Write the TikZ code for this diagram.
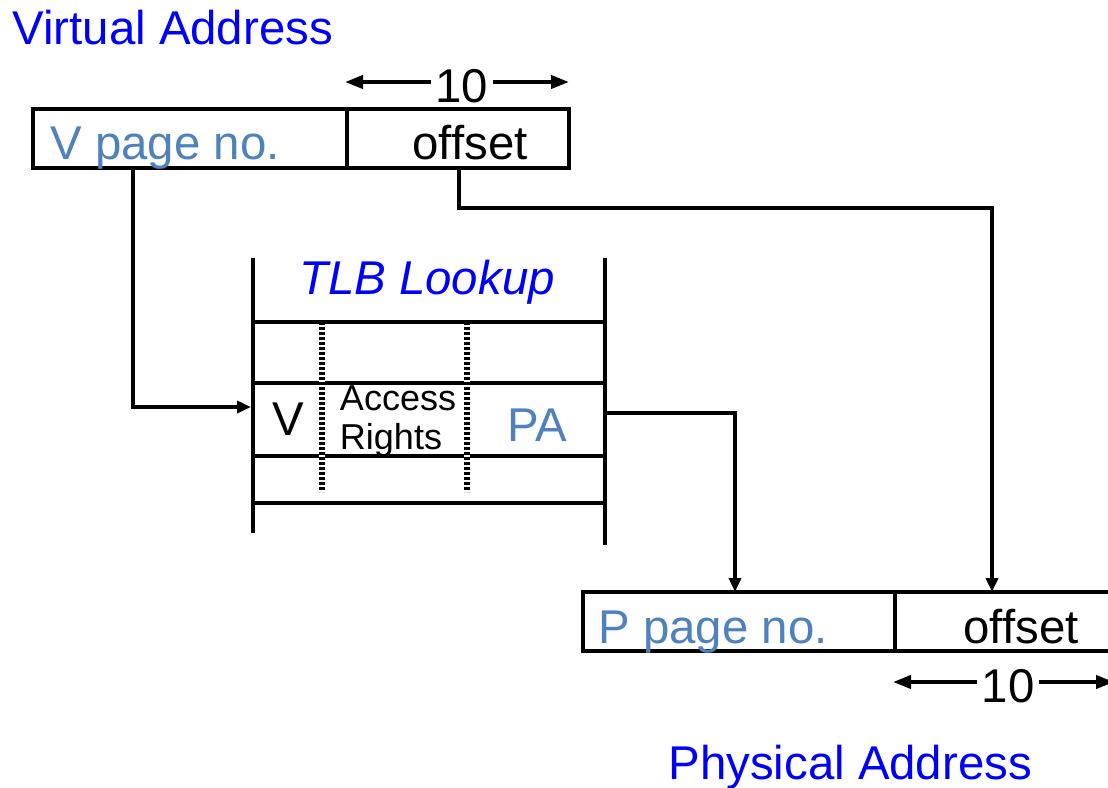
\documentclass[tikz,border=0pt]{standalone}
\usepackage{fontspec}
\setmainfont{Liberation Sans}
\usetikzlibrary{arrows.meta, positioning}
\definecolor{titleblue}{RGB}{0,0,250}
\definecolor{fieldblue}{RGB}{79,129,189}
\newcommand{\diagfont}{\fontsize{23.7}{28}\selectfont}
\newcommand{\rowfont}{\fontsize{18}{19.5}\selectfont}
\tikzset{
    field/.style={rectangle, draw=black, line width=2pt, minimum height=29.5pt, inner sep=0pt, outer sep=0pt},
    title/.style={text=titleblue, inner sep=0pt},
    pagetext/.style={text=fieldblue, inner sep=0pt},
    tlbline/.style={line width=2.4pt},
    hatch/.style={line width=2.8pt, dash pattern=on 1.6pt off 0.9pt},
    conn/.style={-{Triangle[length=7pt, width=6pt]}, line width=2pt},
    dim/.style={-{Triangle[length=9pt, width=6.5pt]}, line width=2pt},
}
\begin{document}
\begin{tikzpicture}[x=0.5pt, y=-0.5pt, font=\diagfont]
        \clip (0,0) rectangle (1108,787);

        % Virtual address
        \node[title, anchor=base west] (vtitle) at (12,44) {Virtual Address};
        \node[field, minimum width=157pt, anchor=north west] (vpn) at (33,109) {};
        \node[field, minimum width=111pt, right=0pt of vpn] (voff) {};
        \node[pagetext, anchor=base west] (vpntext) at ([xshift=8.5pt, yshift=4.5pt]vpn.south west) {V page no.};
        \node[inner sep=0pt, anchor=base] (vofftext) at ([xshift=6pt, yshift=4.5pt]voff.south) {offset};
        \node[inner sep=2pt] (vbits) at (462,86) {10};
        \coordinate (vbitsL) at (345,82);
        \coordinate (vbitsR) at (569,82);
        \draw[dim] (vbits.west |- vbitsL) -- (vbitsL);
        \draw[dim] (vbits.east |- vbitsR) -- (vbitsR);

        % TLB lookup
        \draw[tlbline] (253,258) -- (253,533);
        \draw[tlbline] (605,258) -- (605,545);
        \foreach \y in {322,383,456,503}
            \draw[tlbline] (253,\y) -- (605,\y);
        \foreach \x in {322,467} {
            \draw[white, line width=2.8pt] (\x,322) -- (\x,492);
            \draw[hatch] (\x,322) -- (\x,492);
        }
        \node[title, font=\diagfont\itshape, anchor=base] (tlbtitle) at (427,294) {TLB Lookup};
        \node[inner sep=0pt] (vbit) at (288,419) {V};
        \node[inner sep=0pt, align=left, font=\rowfont] (rights) at (398,421) {Access\\Rights};
        \node[pagetext] (pa) at (537,425) {PA};
        \coordinate (tlbin) at (251,407);
        \coordinate (paout) at (605,413);

        % Physical address
        \node[field, minimum width=156pt, anchor=north west] (ppn) at (583,592) {};
        \node[field, minimum width=111pt, right=0pt of ppn] (poff) {};
        \node[pagetext, anchor=base west] (ppntext) at ([xshift=7.5pt, yshift=4pt]ppn.south west) {P page no.};
        \node[inner sep=0pt, anchor=base] (pofftext) at ([xshift=7.5pt, yshift=4pt]poff.south) {offset};
        \node[inner sep=2pt] (pbits) at (1008,686) {10};
        \coordinate (pbitsL) at (893,682);
        \coordinate (pbitsR) at (1114,682);
        \draw[dim] (pbits.west |- pbitsL) -- (pbitsL);
        \draw[dim] (pbits.east |- pbitsR) -- (pbitsR);
        \node[title, anchor=base west] (ptitle) at (668,779) {Physical Address};

        % Arrows
        \draw[conn] ([xshift=50pt]vpn.south west) |- (tlbin);
        \draw[conn] (paout) -| ([xshift=76pt]ppn.north west);
        \draw[conn] ([xshift=56pt]voff.south west) -- ++(0,40) -| ([xshift=48.5pt]poff.north west);
    \end{tikzpicture}
\end{document}
